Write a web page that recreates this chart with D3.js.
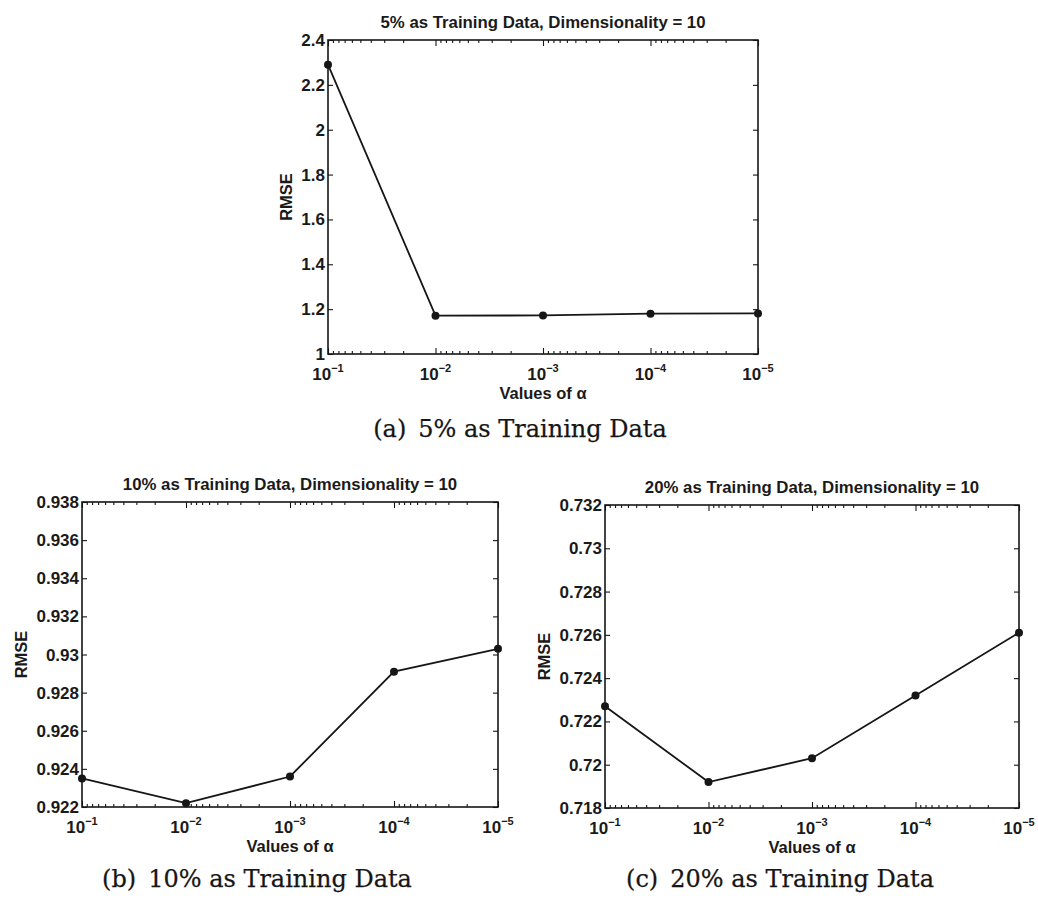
<!DOCTYPE html>
<html>
<head>
<meta charset="utf-8">
<script src="https://cdn.jsdelivr.net/npm/d3@7"></script>
<style>
  html, body { margin: 0; padding: 0; background: #fff; }
  svg { display: block; }
  .lbl { font-family: "Liberation Sans", Arial, sans-serif; font-weight: bold; fill: #1a1a1a; }
  .cap { font-family: "DejaVu Serif", serif; fill: #161616; stroke: #161616; stroke-width: 0.25px; }
</style>
</head>
<body>
<svg id="fig" width="1038" height="900"></svg>
<script>
// RMSE for each regularisation value alpha, three training-set sizes
const alphaValues = [1e-1, 1e-2, 1e-3, 1e-4, 1e-5];
const xTickExponents = [-1, -2, -3, -4, -5];

const rmse5  = [2.290, 1.171, 1.172, 1.180, 1.181];
const rmse10 = [0.9235, 0.9222, 0.9236, 0.9291, 0.9303];
const rmse20 = [0.7227, 0.7192, 0.7203, 0.7232, 0.7261];

const yTicks5  = [1, 1.2, 1.4, 1.6, 1.8, 2, 2.2, 2.4];
const yTicks10 = [0.922, 0.924, 0.926, 0.928, 0.93, 0.932, 0.934, 0.936, 0.938];
const yTicks20 = [0.718, 0.72, 0.722, 0.724, 0.726, 0.728, 0.73, 0.732];

const titles = [
  "5% as Training Data, Dimensionality = 10",
  "10% as Training Data, Dimensionality = 10",
  "20% as Training Data, Dimensionality = 10"
];
const captions = [
  "(a)\u20025% as Training Data",
  "(b)\u200210% as Training Data",
  "(c)\u200220% as Training Data"
];
const xLabel = "Values of \u03b1";
const yLabel = "RMSE";

// panel geometry
const panels = [
  { values: rmse5,  ticks: yTicks5,  title: titles[0], caption: captions[0],
    left: 328, right: 758, top: 40, bottom: 354, capX: 520, capY: 437 },
  { values: rmse10, ticks: yTicks10, title: titles[1], caption: captions[1],
    left: 82, right: 498, top: 502, bottom: 807, capX: 257, capY: 887 },
  { values: rmse20, ticks: yTicks20, title: titles[2], caption: captions[2],
    left: 605, right: 1019, top: 505, bottom: 808, capX: 780, capY: 887 }
];

const ink = "#161616";
const svg = d3.select("#fig");

// log-spaced minor ticks between the decades
const minorTicks = [];
for (let k = -5; k < -1; k++) {
  for (let m = 2; m <= 9; m++) minorTicks.push(m * Math.pow(10, k));
}

panels.forEach(p => {
  const g = svg.append("g");
  const x = d3.scaleLog().domain([1e-1, 1e-5]).range([p.left, p.right]);
  const y = d3.scaleLinear().domain([p.ticks[0], p.ticks[p.ticks.length - 1]]).range([p.bottom, p.top]);

  // inward ticks on all four sides
  const axB = d3.axisBottom(x).tickValues(alphaValues).tickSize(-6).tickFormat("");
  const axT = d3.axisTop(x).tickValues(alphaValues).tickSize(-6).tickFormat("");
  const axBm = d3.axisBottom(x).tickValues(minorTicks).tickSize(-3).tickFormat("");
  const axTm = d3.axisTop(x).tickValues(minorTicks).tickSize(-3).tickFormat("");
  const axL = d3.axisLeft(y).tickValues(p.ticks).tickSize(-5).tickFormat("");
  const axR = d3.axisRight(y).tickValues(p.ticks).tickSize(-5).tickFormat("");

  [[axB, p.bottom], [axBm, p.bottom], [axT, p.top], [axTm, p.top]].forEach(([ax, ty]) => {
    const a = g.append("g").attr("transform", `translate(0,${ty})`).call(ax);
    a.select(".domain").remove();
    a.selectAll("line").attr("stroke", ink).attr("stroke-width", 1.1);
  });
  [[axL, p.left], [axR, p.right]].forEach(([ax, tx]) => {
    const a = g.append("g").attr("transform", `translate(${tx},0)`).call(ax);
    a.select(".domain").remove();
    a.selectAll("line").attr("stroke", ink).attr("stroke-width", 1.1);
  });

  // frame
  g.append("rect")
    .attr("x", p.left).attr("y", p.top)
    .attr("width", p.right - p.left).attr("height", p.bottom - p.top)
    .attr("fill", "none").attr("stroke", ink).attr("stroke-width", 1.6);

  // y tick labels
  const ytl = g.selectAll(".ytl").data(p.ticks).enter().append("text")
    .attr("class", "lbl")
    .attr("x", p.left - 3).attr("y", d => y(d) + 6)
    .attr("text-anchor", "end").attr("font-size", 17)
    .text(d => String(+d.toFixed(3)));
  const maxW = d3.max(ytl.nodes(), n => n.getComputedTextLength());

  // x tick labels: 10 with a superscript exponent
  alphaValues.forEach((a, i) => {
    const t = g.append("text").attr("class", "lbl")
      .attr("x", x(a)).attr("y", p.bottom + 26)
      .attr("text-anchor", "middle").attr("font-size", 17);
    t.append("tspan").text("10");
    t.append("tspan").attr("font-size", 11).attr("dy", -8).text("\u2212" + (-xTickExponents[i]));
  });

  // axis titles
  g.append("text").attr("class", "lbl")
    .attr("x", (p.left + p.right) / 2).attr("y", p.bottom + 45)
    .attr("text-anchor", "middle").attr("font-size", 16.5).text(xLabel);
  g.append("text").attr("class", "lbl")
    .attr("transform", `translate(${p.left - maxW - 12},${(p.top + p.bottom) / 2}) rotate(-90)`)
    .attr("text-anchor", "middle").attr("font-size", 16.5).text(yLabel);

  // plot title
  g.append("text").attr("class", "lbl")
    .attr("x", (p.left + p.right) / 2).attr("y", p.top - 12)
    .attr("text-anchor", "middle").attr("font-size", 16.8).text(p.title);

  // series line with dot markers
  const pts = alphaValues.map((a, i) => [a, p.values[i]]);
  g.append("path")
    .datum(pts)
    .attr("fill", "none").attr("stroke", ink).attr("stroke-width", 1.8)
    .attr("d", d3.line().x(d => x(d[0])).y(d => y(d[1])));
  g.selectAll(".dot").data(pts).enter().append("circle")
    .attr("cx", d => x(d[0])).attr("cy", d => y(d[1])).attr("r", 4)
    .attr("fill", ink);

  // sub-figure caption
  svg.append("text").attr("class", "cap")
    .attr("x", p.capX).attr("y", p.capY)
    .attr("text-anchor", "middle").attr("font-size", 24).text(p.caption);
});
</script>
</body>
</html>
